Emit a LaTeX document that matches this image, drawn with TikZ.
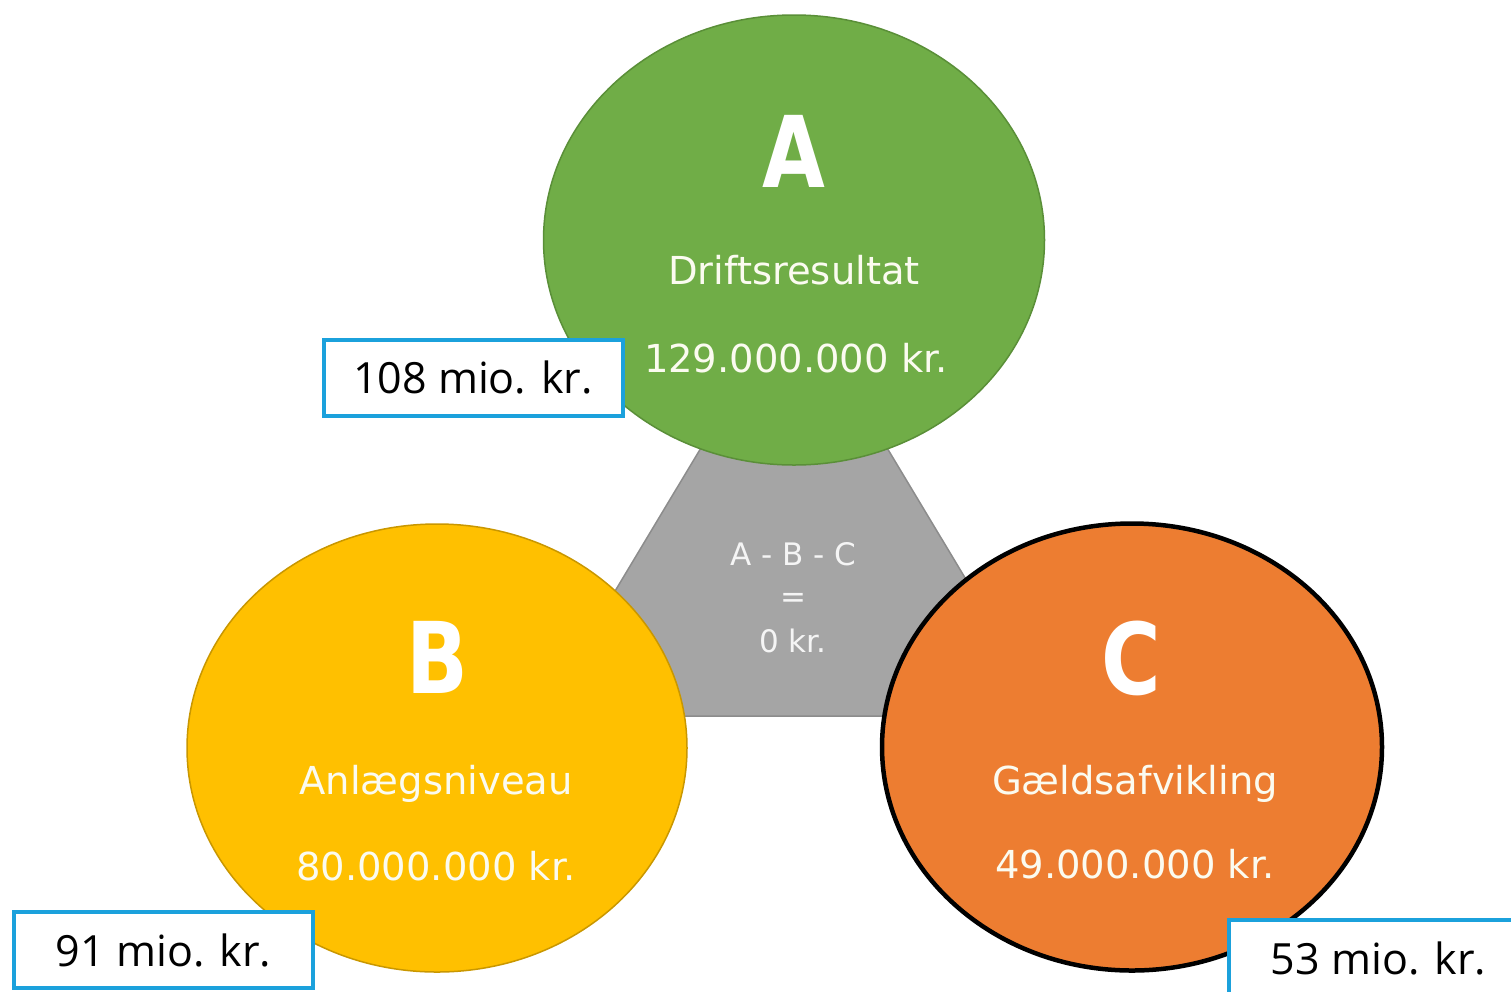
\documentclass[tikz,border=0pt]{standalone}
\usepackage{fontspec}
\setmainfont{DejaVu Sans}
\newfontfamily\boxfont{Open Sans}
\newfontfamily\letterfont[FakeStretch=0.82]{DejaVu Sans}
\usetikzlibrary{shapes.geometric}
\definecolor{cgreen}{HTML}{70AD47}
\definecolor{cgreenline}{HTML}{5A8F38}
\definecolor{cyellow}{HTML}{FFC000}
\definecolor{cyellowline}{HTML}{C99700}
\definecolor{corange}{HTML}{ED7D31}
\definecolor{cgray}{HTML}{A5A5A5}
\definecolor{cgrayline}{HTML}{8C8C8C}
\definecolor{cblue}{HTML}{1BA1DC}
\definecolor{ctxt}{HTML}{FBFBF0}
\tikzset{
  circ/.style={ellipse, inner sep=0pt},
  bigletter/.style={anchor=base, text=white, font=\letterfont\fontsize{99}{99}\selectfont\bfseries, inner sep=0pt},
  subtxt/.style={anchor=base, text=ctxt, font=\fontsize{38.5}{40}\selectfont, inner sep=0pt},
  graytxt/.style={anchor=base, text=white!92!gray, font=\fontsize{31}{33}\selectfont, inner sep=0pt},
  valbox/.style={draw=cblue, line width=4pt, fill=white, minimum width=299pt, minimum height=76pt, inner sep=0pt, font=\boxfont\fontsize{43}{45}\selectfont, text=black}
}
\begin{document}
\begin{tikzpicture}[x=1pt,y=-1pt]
\useasboundingbox (0,0) rectangle (1511,991);
\clip (0,0) rectangle (1511,991);
% central triangle
\filldraw[fill=cgray, draw=cgrayline, line width=1.5pt] (794,293) -- (1048,716) -- (540,716) -- cycle;
% circles
\node[circ, fill=cgreen, draw=cgreenline, line width=1.5pt, minimum width=501pt, minimum height=450pt] (ca) at (794,240) {};
\node[circ, fill=cyellow, draw=cyellowline, line width=1.5pt, minimum width=500pt, minimum height=448pt] (cb) at (437,748) {};
\node[circ, fill=corange, draw=black, line width=4.5pt, minimum width=500pt, minimum height=447pt] (cc) at (1132,747) {};
% texts A
\node[bigletter] (ta) at (794,187) {A};
\node[subtxt] (ta1) at (794,284) {Driftsresultat};
\node[subtxt] (ta2) at (796,372) {129.000.000 kr.};
% texts B
\node[bigletter] (tb) at (437,693) {B};
\node[subtxt] (tb1) at (436,794) {Anlægsniveau};
\node[subtxt] (tb2) at (436,880) {80.000.000 kr.};
% texts C
\node[bigletter] (tc) at (1131,694) {C};
\node[subtxt] (tc1) at (1135,794) {Gældsafvikling};
\node[subtxt] (tc2) at (1135,878) {49.000.000 kr.};
% gray texts
\node[graytxt] (g1) at (793,565) {A - B - C};
\node[graytxt] (g2) at (793,607) {=};
\node[graytxt] (g3) at (793,652) {0 kr.};
% value boxes
\node[valbox] (b108) at (473,377.5) {108 mio. kr.};
\node[valbox] (b91) at (163.5,950) {91 mio. kr.};
\node[valbox] (b53) at (1378.5,958) {53 mio. kr.};
\end{tikzpicture}
\end{document}
